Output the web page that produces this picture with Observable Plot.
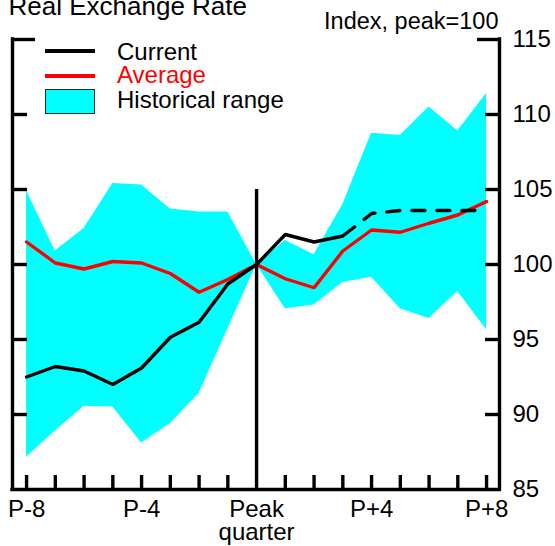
<!DOCTYPE html>
<html>
<head>
<meta charset="utf-8">
<script src="https://cdn.jsdelivr.net/npm/d3@7"></script>
<script src="https://cdn.jsdelivr.net/npm/@observablehq/plot@0.6"></script>
<style>
  body { margin: 0; background: #fff; }
  #chart { position: relative; width: 555px; height: 546px; overflow: hidden;
           font-family: "Liberation Sans", Arial, Helvetica, sans-serif; }
  #chart svg { display: block; }
  #legend { position: absolute; left: 0; top: 0; pointer-events: none; }
</style>
</head>
<body>
<div id="chart"></div>
<script>
// Quarters relative to the exchange-rate peak
const quarters = [-8, -7, -6, -5, -4, -3, -2, -1, 0, 1, 2, 3, 4, 5, 6, 7, 8];
const labelQuarters = [-8, -4, 0, 4, 8];
const quarterLabels = ["P-8", "P-4", "Peak\nquarter", "P+4", "P+8"];

// Real exchange rate, index with peak = 100
const current = [92.5, 93.2, 92.9, 92.0, 93.1, 95.15, 96.15, 98.7, 100,
                 102.0, 101.5, 101.9, 103.4, 103.6, 103.6, 103.6, 103.6];
const lastActual = 3; // beyond this quarter the current path is a projection
const average = [101.5, 100.1, 99.7, 100.2, 100.1, 99.4, 98.15, 99.0, 100,
                 99.05, 98.45, 100.9, 102.3, 102.15, 102.75, 103.3, 104.2];
const rangeHigh = [104.9, 100.9, 102.4, 105.4, 105.3, 103.7, 103.5, 103.5, 100,
                   101.6, 100.65, 104.0, 108.75, 108.6, 110.5, 108.9, 111.4];
const rangeLow = [87.15, 88.9, 90.55, 90.5, 88.1, 89.4, 91.4, 95.7, 100,
                  97.05, 97.3, 98.8, 99.15, 97.05, 96.4, 98.2, 95.65];

const yTicks = [85, 90, 95, 100, 105, 110, 115];
const peakQuarter = 0;
const peakLineTop = 105;

const title = "Real Exchange Rate";
const unitLabel = "Index, peak=100";
const legendItems = ["Current", "Average", "Historical range"];

const rows = quarters.map((q, i) => ({
  q, cur: current[i], avg: average[i], hi: rangeHigh[i], lo: rangeLow[i]
}));

const W = 555, H = 546;
const mL = 12, mR = 56, mT = 39, mB = 57;
const fw = W - mL - mR, fh = H - mT - mB;
const xDomain = [-8.49, 8.45];
const yDomain = [85, 115];
const sw = 3.4;
const cyan = "#00ffff", red = "#ff0000";
const font = "'Liberation Sans', Arial, Helvetica, sans-serif";

const innerTicks = yTicks.filter(v => v > yDomain[0] && v < yDomain[1]);
const topTick = [yDomain[1]];

const chart = Plot.plot({
  width: W, height: H,
  marginLeft: mL, marginRight: mR, marginTop: mT, marginBottom: mB,
  style: { fontFamily: font, fontSize: "24px", background: "white", color: "black", overflow: "visible" },
  x: { domain: xDomain, axis: null },
  y: { domain: yDomain, axis: null },
  marks: [
    // historical range band
    Plot.areaY(rows, { x: "q", y1: "lo", y2: "hi", fill: cyan, curve: "linear" }),
    // average path across episodes
    Plot.line(rows, { x: "q", y: "avg", stroke: red, strokeWidth: sw, strokeLinejoin: "miter" }),
    // current episode: actual then projected
    Plot.line(rows.filter(d => d.q <= lastActual), { x: "q", y: "cur", stroke: "black", strokeWidth: sw,
                                                      strokeLinejoin: "miter", strokeLinecap: "round" }),
    Plot.line(rows.filter(d => d.q >= lastActual), { x: "q", y: "cur", stroke: "black", strokeWidth: sw,
                                                      strokeDasharray: "13,12", strokeDashoffset: -2 }),
    // peak quarter marker
    Plot.ruleX([peakQuarter], { y1: yDomain[0], y2: peakLineTop, stroke: "black", strokeWidth: sw }),
    // axis lines
    Plot.ruleX([xDomain[0]], { stroke: "black", strokeWidth: sw, strokeLinecap: "square" }),
    Plot.ruleX([xDomain[1]], { stroke: "black", strokeWidth: sw, strokeLinecap: "square" }),
    Plot.ruleY([yDomain[0]], { stroke: "black", strokeWidth: sw, strokeLinecap: "square" }),
    // inward ticks, left and right
    Plot.ruleY(innerTicks, { y: d => d, insetRight: fw - 15, stroke: "black", strokeWidth: sw }),
    Plot.ruleY(innerTicks, { y: d => d, insetLeft: fw - 14, stroke: "black", strokeWidth: sw }),
    Plot.ruleY(topTick, { y: d => d, insetRight: fw - 23, stroke: "black", strokeWidth: sw }),
    Plot.ruleY(topTick, { y: d => d, insetLeft: fw - 22, stroke: "black", strokeWidth: sw }),
    // bottom quarter ticks
    Plot.ruleX(quarters.filter(q => q !== peakQuarter), { x: d => d, insetTop: fh - 14, stroke: "black", strokeWidth: sw }),
    // right-hand value labels
    Plot.text(yTicks, { y: d => d, text: d => String(d), frameAnchor: "right", textAnchor: "start",
                        lineAnchor: "middle", dx: 13, fontSize: 24, fill: "black" }),
    // quarter labels
    Plot.text(labelQuarters, { x: d => d, text: (d, i) => quarterLabels[i], frameAnchor: "bottom",
                               lineAnchor: "top", dy: 11, lineHeight: 0.97, fontSize: 24, fill: "black" }),
    // title and unit
    Plot.text([title], { text: d => d, frameAnchor: "top-left", textAnchor: "start", lineAnchor: "bottom",
                         dx: -4, dy: -25, fontSize: 26, fill: "black" }),
    Plot.text([unitLabel], { text: d => d, frameAnchor: "top-right", textAnchor: "end", lineAnchor: "bottom",
                             dx: -1, dy: -11, fontSize: 23.5, fill: "black" })
  ]
});

const host = document.getElementById("chart");
host.appendChild(chart);

// Legend overlay in the upper-left corner of the plot area
const legend = d3.select(host).append("svg")
  .attr("id", "legend").attr("width", W).attr("height", H)
  .style("font-family", font).style("font-size", "24px");

const sx0 = 45, sx1 = 95, tx = 117;
legend.append("line").attr("x1", sx0).attr("x2", sx1).attr("y1", 51).attr("y2", 51)
  .attr("stroke", "black").attr("stroke-width", 4);
legend.append("line").attr("x1", sx0).attr("x2", sx1).attr("y1", 76).attr("y2", 76)
  .attr("stroke", red).attr("stroke-width", 4);
legend.append("rect").attr("x", sx0 + 0.5).attr("y", 89.5).attr("width", sx1 - sx0 - 1).attr("height", 24)
  .attr("fill", cyan).attr("stroke", "#003333").attr("stroke-width", 1);

const legendBaselines = [60, 83, 108];
const legendColors = ["black", red, "black"];
legendItems.forEach((t, i) => {
  legend.append("text").attr("x", tx).attr("y", legendBaselines[i])
    .attr("fill", legendColors[i]).text(t);
});
</script>
</body>
</html>
